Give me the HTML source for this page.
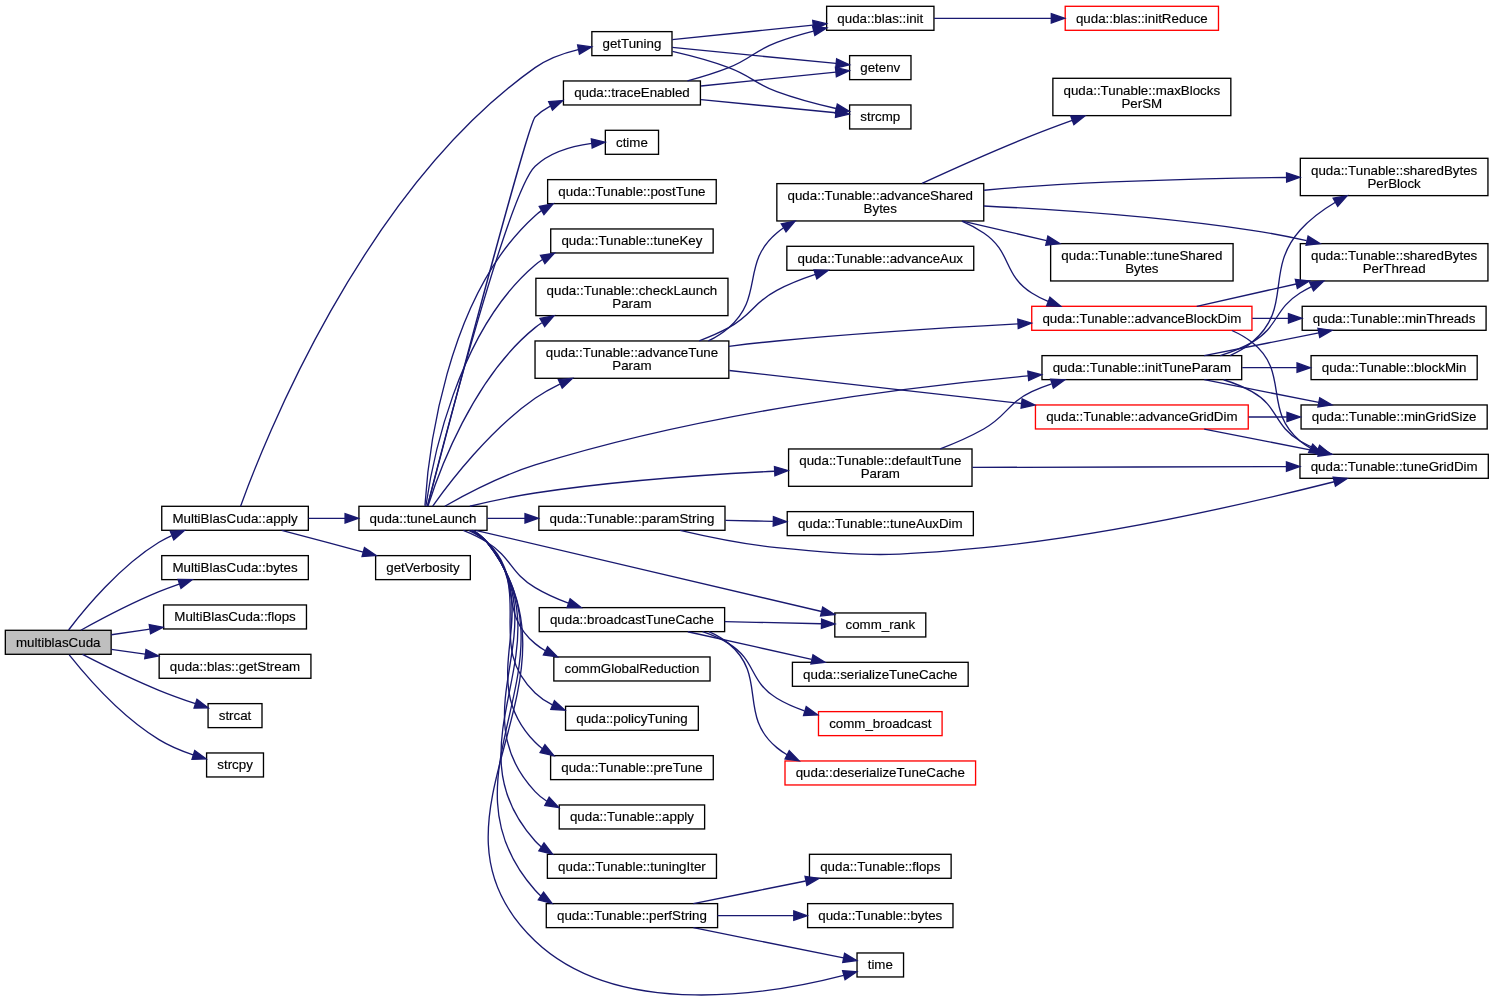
<!DOCTYPE html>
<html><head><meta charset="utf-8"><title>multiblasCuda</title>
<style>html,body{margin:0;padding:0;background:#fff}svg{display:block;will-change:transform}text{font-family:"Liberation Sans",sans-serif;font-size:13.333px;fill:#000;text-anchor:middle;stroke:#000;stroke-width:.15px}.e{fill:none;stroke:#191970;stroke-width:1.333}.a{fill:#191970;stroke:#191970;stroke-width:1.333}.n{fill:#fff;stroke:#000;stroke-width:1.333}.r{fill:#fff;stroke:#f00;stroke-width:1.333}.g{fill:#bfbfbf;stroke:#000;stroke-width:1.333}</style></head><body>
<svg width="1494" height="1001" viewBox="0 0 1494 1001">
<rect x="0" y="0" width="1494" height="1001" fill="#fff"/>
<rect class="g" x="5.33" y="630.3" width="105.82" height="24"/>
<text x="58.24" y="647">multiblasCuda</text>
<rect class="n" x="161.75" y="506.3" width="146.58" height="24"/>
<text x="235.04" y="523">MultiBlasCuda::apply</text>
<rect class="n" x="161.75" y="555.63" width="146.57" height="24"/>
<text x="235.04" y="572">MultiBlasCuda::bytes</text>
<rect class="n" x="163.6" y="604.97" width="142.87" height="24"/>
<text x="235.04" y="621">MultiBlasCuda::flops</text>
<rect class="n" x="159.15" y="654.3" width="151.78" height="24"/>
<text x="235.04" y="671">quda::blas::getStream</text>
<rect class="n" x="208.07" y="703.63" width="53.93" height="24"/>
<text x="235.04" y="720">strcat</text>
<rect class="n" x="206.59" y="752.97" width="56.89" height="24"/>
<text x="235.04" y="769">strcpy</text>
<rect class="n" x="591.86" y="31.63" width="80.14" height="24"/>
<text x="631.93" y="48">getTuning</text>
<rect class="n" x="358.93" y="506.3" width="128.1" height="24"/>
<text x="422.98" y="523">quda::tuneLaunch</text>
<rect class="n" x="375.62" y="555.63" width="94.71" height="24"/>
<text x="422.98" y="572">getVerbosity</text>
<rect class="n" x="826.63" y="6.3" width="107.32" height="24"/>
<text x="880.29" y="23">quda::blas::init</text>
<rect class="n" x="849.61" y="55.63" width="61.37" height="24"/>
<text x="880.29" y="72">getenv</text>
<rect class="n" x="849.62" y="104.97" width="61.33" height="24"/>
<text x="880.29" y="121">strcmp</text>
<rect class="r" x="1065.21" y="6.3" width="153.27" height="24"/>
<text x="1141.85" y="23">quda::blas::initReduce</text>
<rect class="n" x="563.44" y="80.97" width="136.98" height="24"/>
<text x="631.93" y="97">quda::traceEnabled</text>
<rect class="n" x="605.34" y="130.3" width="53.19" height="24"/>
<text x="631.93" y="147">ctime</text>
<rect class="n" x="547.63" y="179.63" width="168.6" height="24"/>
<text x="631.93" y="196">quda::Tunable::postTune</text>
<rect class="n" x="550.72" y="228.97" width="162.43" height="24"/>
<text x="631.93" y="245">quda::Tunable::tuneKey</text>
<rect class="n" x="535.89" y="278.3" width="192.08" height="37.33"/>
<text x="631.93" y="295">quda::Tunable::checkLaunch</text>
<text x="631.93" y="308">Param</text>
<rect class="n" x="535.03" y="340.97" width="193.81" height="37.33"/>
<text x="631.93" y="357">quda::Tunable::advanceTune</text>
<text x="631.93" y="370">Param</text>
<rect class="n" x="1041.99" y="355.63" width="199.71" height="24"/>
<text x="1141.85" y="372">quda::Tunable::initTuneParam</text>
<rect class="n" x="788.58" y="448.97" width="183.43" height="37.33"/>
<text x="880.29" y="465">quda::Tunable::defaultTune</text>
<text x="880.29" y="478">Param</text>
<rect class="n" x="538.87" y="506.3" width="186.12" height="24"/>
<text x="631.93" y="523">quda::Tunable::paramString</text>
<rect class="n" x="834.8" y="612.97" width="90.98" height="24"/>
<text x="880.29" y="629">comm_rank</text>
<rect class="n" x="539.23" y="607.63" width="185.4" height="24"/>
<text x="631.93" y="624">quda::broadcastTuneCache</text>
<rect class="n" x="553.83" y="656.97" width="156.21" height="24"/>
<text x="631.93" y="673">commGlobalReduction</text>
<rect class="n" x="565.55" y="706.3" width="132.77" height="24"/>
<text x="631.93" y="723">quda::policyTuning</text>
<rect class="n" x="550.6" y="755.63" width="162.67" height="24"/>
<text x="631.93" y="772">quda::Tunable::preTune</text>
<rect class="n" x="559.24" y="804.97" width="145.38" height="24"/>
<text x="631.93" y="821">quda::Tunable::apply</text>
<rect class="n" x="547.38" y="854.3" width="169.09" height="24"/>
<text x="631.93" y="871">quda::Tunable::tuningIter</text>
<rect class="n" x="546.28" y="903.63" width="171.31" height="24"/>
<text x="631.93" y="920">quda::Tunable::perfString</text>
<rect class="n" x="857.03" y="952.97" width="46.52" height="24"/>
<text x="880.29" y="969">time</text>
<rect class="n" x="776.84" y="183.63" width="206.91" height="37.33"/>
<text x="880.29" y="200">quda::Tunable::advanceShared</text>
<text x="880.29" y="213">Bytes</text>
<rect class="r" x="1031.74" y="306.3" width="220.21" height="24"/>
<text x="1141.85" y="323">quda::Tunable::advanceBlockDim</text>
<rect class="n" x="786.85" y="246.3" width="186.89" height="24"/>
<text x="880.29" y="263">quda::Tunable::advanceAux</text>
<rect class="r" x="1035.45" y="404.97" width="212.8" height="24"/>
<text x="1141.85" y="421">quda::Tunable::advanceGridDim</text>
<rect class="n" x="1052.87" y="78.3" width="177.96" height="37.33"/>
<text x="1141.85" y="95">quda::Tunable::maxBlocks</text>
<text x="1141.85" y="108">PerSM</text>
<rect class="n" x="1300.32" y="158.3" width="187.62" height="37.33"/>
<text x="1394.13" y="175">quda::Tunable::sharedBytes</text>
<text x="1394.13" y="188">PerBlock</text>
<rect class="n" x="1300.32" y="243.63" width="187.62" height="37.33"/>
<text x="1394.13" y="260">quda::Tunable::sharedBytes</text>
<text x="1394.13" y="273">PerThread</text>
<rect class="n" x="1050.63" y="243.63" width="182.45" height="37.33"/>
<text x="1141.85" y="260">quda::Tunable::tuneShared</text>
<text x="1141.85" y="273">Bytes</text>
<rect class="n" x="1302.18" y="306.3" width="183.9" height="24"/>
<text x="1394.13" y="323">quda::Tunable::minThreads</text>
<rect class="n" x="1299.96" y="454.3" width="188.34" height="24"/>
<text x="1394.13" y="471">quda::Tunable::tuneGridDim</text>
<rect class="n" x="1301.07" y="404.97" width="186.11" height="24"/>
<text x="1394.13" y="421">quda::Tunable::minGridSize</text>
<rect class="n" x="1311.07" y="355.63" width="166.11" height="24"/>
<text x="1394.13" y="372">quda::Tunable::blockMin</text>
<rect class="n" x="787.23" y="511.63" width="186.12" height="24"/>
<text x="880.29" y="528">quda::Tunable::tuneAuxDim</text>
<rect class="n" x="792.42" y="662.3" width="175.75" height="24"/>
<text x="880.29" y="679">quda::serializeTuneCache</text>
<rect class="r" x="818.49" y="711.63" width="123.6" height="24"/>
<text x="880.29" y="728">comm_broadcast</text>
<rect class="r" x="785" y="760.97" width="190.58" height="24"/>
<text x="880.29" y="777">quda::deserializeTuneCache</text>
<rect class="n" x="809.46" y="854.3" width="141.67" height="24"/>
<text x="880.29" y="871">quda::Tunable::flops</text>
<rect class="n" x="807.61" y="903.63" width="145.37" height="24"/>
<text x="880.29" y="920">quda::Tunable::bytes</text>
<path class="e" d="M68.58,629.98C84.51,609.01 119.73,566.34 158.98,542.3 163,539.85 167.28,537.62 171.71,535.59"/>
<polygon class="a" points="170.27,531.14 184.39,530.43 173.79,539.78"/>
<path class="e" d="M80.82,630.21C100.63,619.25 131.23,603.09 158.98,591.63 165.43,588.98 172.29,586.42 179.13,584.03"/>
<polygon class="a" points="178.04,579.49 192.17,579.67 181,588.34"/>
<path class="e" d="M111.35,634.77C123.4,633.02 136.54,631.1 149.59,629.21"/>
<polygon class="a" points="149.24,624.54 163.12,627.25 150.58,633.78"/>
<path class="e" d="M111.35,649.43C122.01,650.91 133.52,652.5 145.08,654.09"/>
<polygon class="a" points="146.03,649.51 158.61,655.95 144.75,658.75"/>
<path class="e" d="M82.51,654.38C102.42,664.62 132.2,679.34 158.98,690.3 170.68,695.09 183.65,699.71 195.46,703.67"/>
<polygon class="a" points="196.94,699.25 208.17,707.85 194.04,708.13"/>
<path class="e" d="M69.22,654.89C85.57,675.39 120.7,716.11 158.98,739.63 169.39,746.02 181.6,751.03 193.1,754.86"/>
<polygon class="a" points="194.72,750.47 206.14,758.81 192.01,759.39"/>
<path class="e" d="M240.58,506.23C261.68,447.59 361.87,190.22 535.13,67.63 547.74,58.73 563.33,53.11 578.24,49.59"/>
<polygon class="a" points="577.62,44.95 591.64,46.9 579.46,54.1"/>
<path class="e" d="M308.54,518.3C320.49,518.3 332.93,518.3 345,518.3"/>
<polygon class="a" points="345.08,513.63 358.41,518.3 345.08,522.97"/>
<path class="e" d="M281.69,530.37C306.26,536.91 336.89,545.07 363.23,552.07"/>
<polygon class="a" points="364.47,547.58 376.15,555.53 362.07,556.61"/>
<path class="e" d="M672.2,39.62C709.96,35.73 768.01,29.74 812.98,25.1"/>
<polygon class="a" points="812.73,20.45 826.49,23.71 813.69,29.73"/>
<path class="e" d="M672.2,47.45C716.83,51.81 789.77,58.93 836.03,63.45"/>
<polygon class="a" points="836.63,58.81 849.46,64.75 835.72,68.1"/>
<path class="e" d="M672.4,51.46C689.91,55.47 710.63,60.93 728.74,67.63 751.13,75.93 754.4,83.38 776.81,91.63 795.79,98.63 817.48,104.31 835.96,108.51"/>
<polygon class="a" points="837.32,104.03 849.38,111.43 835.35,113.15"/>
<path class="e" d="M934.02,18.3C967.59,18.3 1012.03,18.3 1051.08,18.3"/>
<polygon class="a" points="1051.3,13.63 1064.65,18.3 1051.3,22.97"/>
<path class="e" d="M427.51,506.1C444.89,439.63 527.72,124.21 535.13,116.97 539.58,112.62 544.71,109.03 550.21,106.06"/>
<polygon class="a" points="548.66,101.63 562.76,100.51 552.44,110.17"/>
<path class="e" d="M427.44,505.95C442.59,446.46 508.78,191.14 535.13,166.3 550.23,152.07 572.5,145.94 591.74,143.43"/>
<polygon class="a" points="591.33,138.78 605.07,142.18 592.21,148.07"/>
<path class="e" d="M424.92,505.67C427.84,459.35 444.4,297.29 535.13,215.63 537.13,213.83 539.24,212.17 541.46,210.62"/>
<polygon class="a" points="539.28,206.49 553.17,203.85 543.96,214.57"/>
<path class="e" d="M425.86,506.02C431.71,465.02 456.29,331.66 535.13,264.97 537.47,262.99 539.94,261.18 542.52,259.51"/>
<polygon class="a" points="540.46,255.33 554.42,253.1 544.89,263.54"/>
<path class="e" d="M428,505.98C438.69,472.23 473.05,377.58 535.13,327.63 537.27,325.91 539.5,324.3 541.81,322.77"/>
<polygon class="a" points="540.03,318.41 553.93,315.83 544.68,326.51"/>
<path class="e" d="M432.7,506.1C449.56,482.38 489.87,429.61 535.13,398.3 542.74,393.05 551.17,388.33 559.78,384.15"/>
<polygon class="a" points="558.36,379.67 572.45,378.43 562.22,388.18"/>
<path class="e" d="M444.81,506.21C466.52,493.93 502.13,475.33 535.13,464.97 702.31,412.53 904.8,387.29 1028.03,375.95"/>
<polygon class="a" points="1027.84,371.27 1041.55,374.73 1028.69,380.58"/>
<path class="e" d="M469.84,506.26C489.75,501.42 513.46,496.22 535.13,492.97 615.03,480.97 706.28,474.58 774.68,471.22"/>
<polygon class="a" points="774.48,466.55 788.05,470.59 774.92,475.87"/>
<path class="e" d="M487.32,518.3C499.28,518.3 512.1,518.3 524.96,518.3"/>
<polygon class="a" points="525,513.63 538.35,518.3 525,522.97"/>
<path class="e" d="M475.58,530.33C561.06,550.39 732.13,590.53 821.54,611.5"/>
<polygon class="a" points="822.7,606.98 834.64,614.57 820.56,616.06"/>
<path class="e" d="M463.29,530.49C471.43,533.78 479.76,537.71 487.07,542.3 511.94,557.93 509.94,572.54 535.13,587.63 545.37,593.77 556.94,598.91 568.4,603.15"/>
<polygon class="a" points="570.11,598.81 581.22,607.55 567.08,607.63"/>
<path class="e" d="M468.67,530.31C475.34,533.46 481.77,537.39 487.07,542.3 523.68,576.17 496.77,611.75 535.13,643.63 538.32,646.29 541.77,648.67 545.39,650.79"/>
<polygon class="a" points="547.58,646.67 557.44,656.79 543.4,655.03"/>
<path class="e" d="M470.52,530.35C476.67,533.47 482.42,537.39 487.07,542.3 535.39,593.41 484.17,644.5 535.13,692.97 540.21,697.79 546.08,701.73 552.38,704.91"/>
<polygon class="a" points="554.45,700.73 564.93,710.21 550.81,709.33"/>
<path class="e" d="M471.49,530.38C477.33,533.5 482.75,537.41 487.07,542.3 547.44,611.01 471.19,676.89 535.13,742.3 537.32,744.54 539.68,746.59 542.18,748.47"/>
<polygon class="a" points="544.96,744.69 553.93,755.62 540.1,752.66"/>
<path class="e" d="M472.31,530.54C477.89,533.63 483.02,537.49 487.07,542.3 559.66,628.79 458.05,709.11 535.13,791.63 538.62,795.37 542.57,798.57 546.85,801.31"/>
<polygon class="a" points="549.18,797.26 558.83,807.58 544.84,805.53"/>
<path class="e" d="M472.45,530.43C478,533.53 483.1,537.42 487.07,542.3 571.96,646.66 444.84,741.26 535.13,840.97 536.99,843.02 538.99,844.91 541.1,846.66"/>
<polygon class="a" points="544.01,842.98 552.58,854.22 538.86,850.77"/>
<path class="e" d="M472.55,530.35C478.09,533.46 483.15,537.38 487.07,542.3 584.28,664.58 431.56,773.34 535.13,890.3 536.92,892.33 538.86,894.19 540.9,895.91"/>
<polygon class="a" points="543.56,892.09 552,903.42 538.32,899.81"/>
<path class="e" d="M473.25,530.63C478.54,533.7 483.34,537.53 487.07,542.3 596.98,683.02 405.68,817.97 535.13,940.97 619.5,1021.1 774.27,993.29 843.66,975.33"/>
<polygon class="a" points="842.62,970.77 856.74,971.79 845.07,979.78"/>
<path class="e" d="M687.48,80.86C701.14,77.19 715.64,72.75 728.74,67.63 751.24,58.86 754.19,50.77 776.81,42.3 788.46,37.94 801.16,34.21 813.53,31.06"/>
<polygon class="a" points="812.67,26.47 826.75,27.89 814.86,35.54"/>
<path class="e" d="M701.06,85.98C744.12,81.54 798.59,75.93 835.84,72.09"/>
<polygon class="a" points="835.44,67.43 849.21,70.7 836.4,76.71"/>
<path class="e" d="M701.06,99.59C744.12,103.79 798.59,109.11 835.84,112.75"/>
<polygon class="a" points="836.37,108.13 849.21,114.06 835.47,117.41"/>
<path class="e" d="M708.31,340.97C715.67,337.29 722.65,332.89 728.74,327.63 764.48,296.79 740.58,263.25 776.81,232.97 778.89,231.23 781.05,229.59 783.31,228.05"/>
<polygon class="a" points="781.27,223.83 795.14,221.07 786.02,231.87"/>
<path class="e" d="M728.91,346.29C744.88,344.33 761.29,342.46 776.81,340.97 857,333.27 947.37,327.62 1017.97,323.89"/>
<polygon class="a" points="1017.8,319.22 1031.37,323.19 1018.28,328.54"/>
<path class="e" d="M699.2,340.79C709.34,336.98 719.5,332.59 728.74,327.63 752.59,314.86 752.83,302.85 776.81,290.3 788.78,284.03 802.2,278.75 815.28,274.39"/>
<polygon class="a" points="814.03,269.89 828.17,270.34 816.84,278.79"/>
<path class="e" d="M729.3,370.49C812.25,379.86 932.4,393.45 1021.41,403.5"/>
<polygon class="a" points="1022.13,398.89 1034.86,405.02 1021.08,408.17"/>
<path class="e" d="M922.05,183.35C952.06,169.51 994.15,150.65 1031.75,135.63 1044.73,130.46 1058.71,125.23 1072.18,120.37"/>
<polygon class="a" points="1070.73,115.93 1084.88,115.83 1073.88,124.71"/>
<path class="e" d="M984.09,190.27C1000.03,188.73 1016.33,187.33 1031.75,186.3 1117.26,180.65 1214.38,178.38 1286.34,177.47"/>
<polygon class="a" points="1286.54,172.81 1299.95,177.33 1286.65,182.14"/>
<path class="e" d="M983.86,205.97C1058.47,209.62 1161.9,216.74 1251.97,230.3 1269.75,232.98 1288.63,236.67 1306.58,240.59"/>
<polygon class="a" points="1308.1,236.15 1320.1,243.62 1306.05,245.26"/>
<path class="e" d="M962.47,221.05C989.12,227.22 1018.98,234.14 1046.53,240.53"/>
<polygon class="a" points="1047.89,236.05 1059.83,243.61 1045.78,245.14"/>
<path class="e" d="M961.81,221.19C969.51,224.53 976.96,228.42 983.71,232.97 1012.03,252.09 1002.84,274.75 1031.75,292.97 1036.88,296.19 1042.36,299.01 1048.05,301.47"/>
<polygon class="a" points="1049.96,297.19 1060.78,306.3 1046.63,305.93"/>
<path class="e" d="M1196.74,306.29C1225.69,299.79 1262.34,291.57 1296.11,283.99"/>
<polygon class="a" points="1295.33,279.39 1309.38,281.02 1297.38,288.5"/>
<path class="e" d="M1252.31,318.3C1264.32,318.3 1276.52,318.3 1288.47,318.3"/>
<polygon class="a" points="1288.48,313.63 1301.83,318.3 1288.48,322.97"/>
<path class="e" d="M1231.86,330.51C1239.06,333.65 1245.9,337.51 1251.97,342.3 1290.31,372.5 1262.45,409.83 1300.03,440.97 1303.27,443.65 1306.77,446.05 1310.44,448.19"/>
<polygon class="a" points="1312.77,444.15 1322.69,454.23 1308.65,452.51"/>
<path class="e" d="M1204.25,429.03C1238.82,435.87 1282.33,444.47 1318.83,451.69"/>
<polygon class="a" points="1319.74,447.11 1331.93,454.27 1317.93,456.26"/>
<path class="e" d="M1248.67,416.97C1261.29,416.97 1274.16,416.97 1286.77,416.97"/>
<polygon class="a" points="1286.98,412.3 1300.33,416.97 1286.98,421.63"/>
<path class="e" d="M1229.97,355.55C1237.93,352.11 1245.43,347.78 1251.97,342.3 1293.52,307.53 1264,270.78 1300.03,230.3 1309.86,219.26 1322.54,209.93 1335.37,202.3"/>
<polygon class="a" points="1333.16,198.19 1347.1,195.79 1337.71,206.35"/>
<path class="e" d="M1220.18,355.53C1231.24,352.15 1242.17,347.83 1251.97,342.3 1278.64,327.26 1274.06,309.21 1300.03,292.97 1303.7,290.67 1307.55,288.54 1311.52,286.54"/>
<polygon class="a" points="1309.62,282.27 1323.72,280.98 1313.51,290.77"/>
<path class="e" d="M1204.25,355.57C1238.82,348.74 1282.33,340.14 1318.83,332.93"/>
<polygon class="a" points="1317.93,328.34 1331.93,330.33 1319.74,337.5"/>
<path class="e" d="M1223.59,379.75C1233.48,382.86 1243.19,386.75 1251.97,391.63 1278.72,406.53 1273.65,425.43 1300.03,440.97 1305.58,444.25 1311.56,447.1 1317.72,449.61"/>
<polygon class="a" points="1319.58,445.31 1330.54,454.23 1316.4,454.09"/>
<path class="e" d="M1204.25,379.7C1238.82,386.54 1282.33,395.14 1318.83,402.35"/>
<polygon class="a" points="1319.74,397.78 1331.93,404.94 1317.93,406.93"/>
<path class="e" d="M1242.2,367.63C1260.19,367.63 1278.95,367.63 1296.88,367.63"/>
<polygon class="a" points="1297.04,362.97 1310.38,367.63 1297.04,372.3"/>
<path class="e" d="M972.41,467.41C1060.31,467.17 1193.57,466.82 1286.41,466.58"/>
<polygon class="a" points="1286.45,461.91 1299.81,466.54 1286.48,471.25"/>
<path class="e" d="M940.22,448.87C954.82,443.27 970.15,436.58 983.71,428.97 1007.29,415.74 1007.27,403.13 1031.75,391.63 1038.05,388.69 1044.71,386.09 1051.53,383.81"/>
<polygon class="a" points="1050.64,379.19 1064.77,379.79 1053.36,388.13"/>
<path class="e" d="M680.09,530.37C707.96,536.91 744.16,544.34 776.81,547.63 868.33,556.89 892.22,556.65 983.71,547.63 1110.06,535.19 1255.26,501.63 1334.2,481.73"/>
<polygon class="a" points="1333.13,477.18 1347.22,478.42 1335.44,486.23"/>
<path class="e" d="M725.45,520.3C740.93,520.65 757.11,520.99 772.91,521.34"/>
<polygon class="a" points="773.42,516.67 786.66,521.63 773.22,526.01"/>
<path class="e" d="M724.74,621.62C757.11,622.33 792.58,623.1 821.34,623.71"/>
<polygon class="a" points="821.62,619.06 834.88,624.02 821.42,628.39"/>
<path class="e" d="M687.8,631.77C724.34,639.9 772.72,650.66 811.66,659.33"/>
<polygon class="a" points="812.99,654.85 825.01,662.3 810.95,663.95"/>
<path class="e" d="M702.58,631.74C711.74,634.85 720.71,638.74 728.74,643.63 756.36,660.5 749.15,681.49 776.81,698.3 785.29,703.46 794.77,707.57 804.43,710.83"/>
<polygon class="a" points="806.22,706.5 817.67,714.81 803.54,715.43"/>
<path class="e" d="M708.86,631.67C716.03,634.81 722.82,638.74 728.74,643.63 767.98,676.14 737.52,715.19 776.81,747.63 780.01,750.29 783.46,752.66 787.08,754.79"/>
<polygon class="a" points="789.27,750.67 799.11,760.81 785.07,759.02"/>
<path class="e" d="M693.37,903.57C727.26,896.77 769.85,888.21 805.68,881.02"/>
<polygon class="a" points="805.03,876.38 819.04,878.33 806.88,885.54"/>
<path class="e" d="M717.47,915.63C742.09,915.63 769.01,915.63 793.68,915.63"/>
<polygon class="a" points="793.78,910.97 807.13,915.63 793.78,920.3"/>
<path class="e" d="M693.37,927.7C740.43,937.15 804.3,949.98 843.52,957.86"/>
<polygon class="a" points="844.6,953.31 856.76,960.51 842.76,962.46"/>
</svg></body></html>
